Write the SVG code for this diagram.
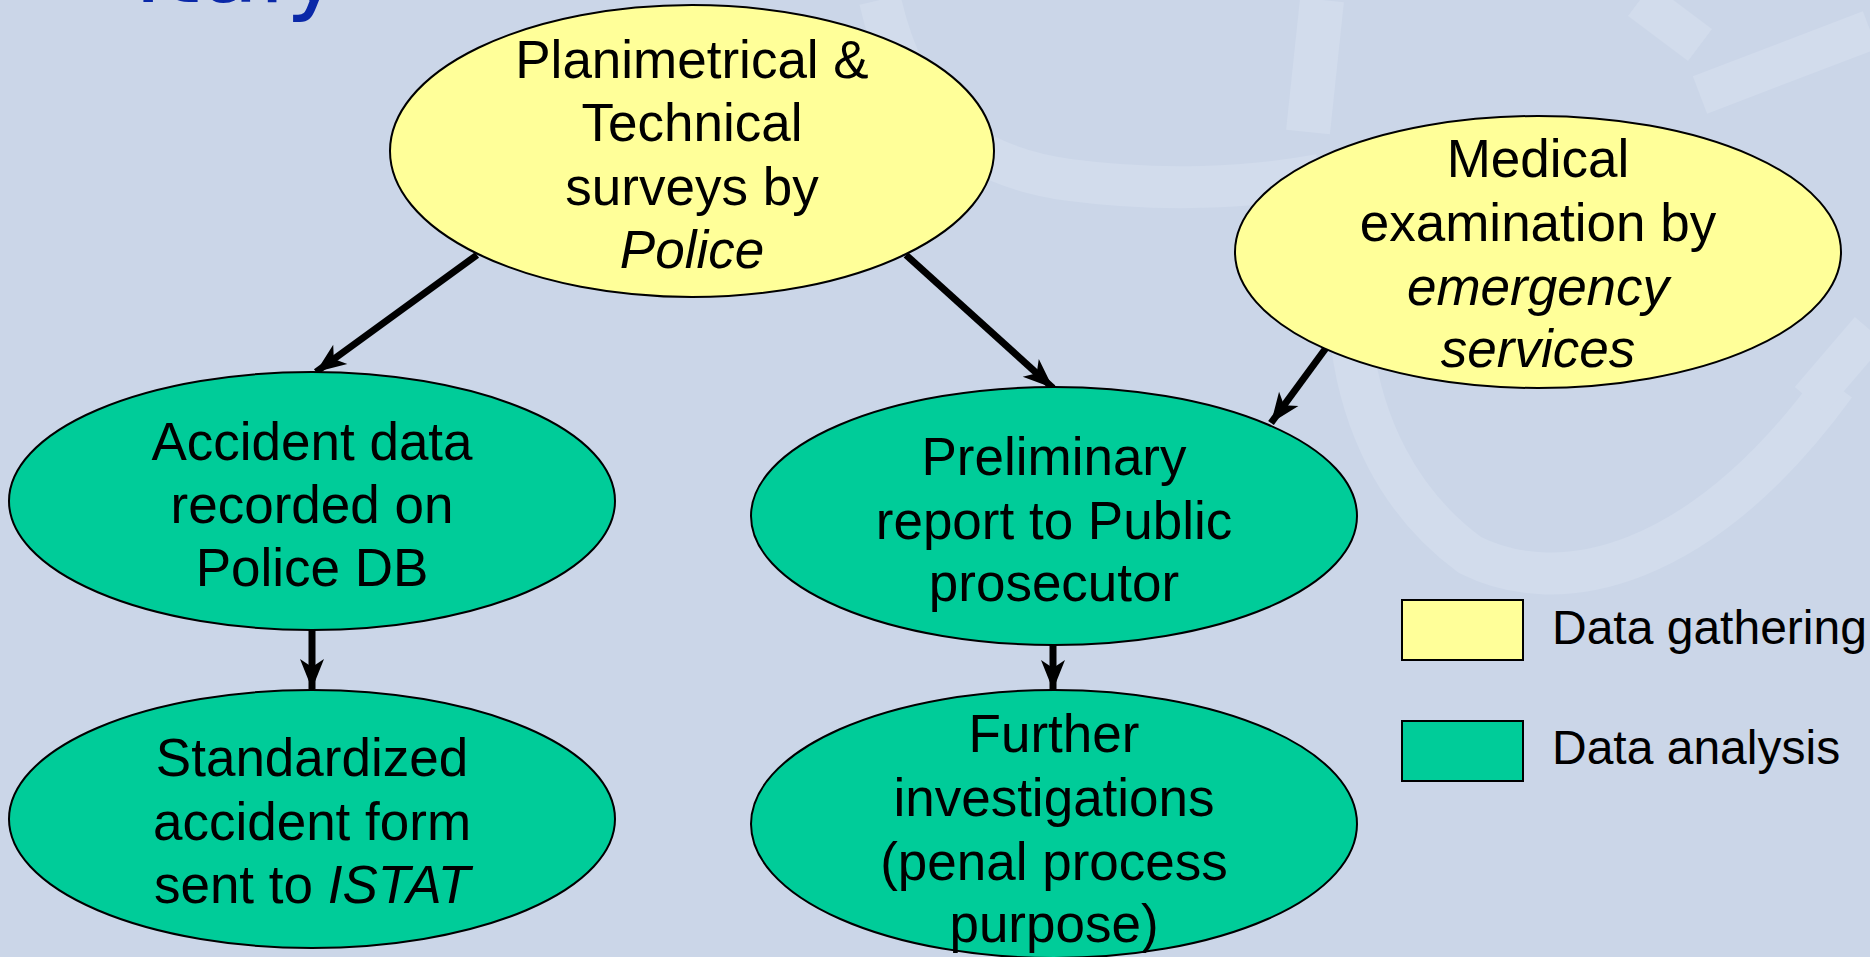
<svg xmlns="http://www.w3.org/2000/svg" width="1870" height="957" viewBox="0 0 1870 957">
<defs>
<style>
.bg{fill:#cbd6e8}
.wm{fill:none;stroke:#d2dcec;stroke-linecap:butt}
.gather{fill:#ffff99;stroke:#000;stroke-width:2}
.analysis{fill:#00cc99;stroke:#000;stroke-width:2}
.lbl{font-family:"Liberation Sans",Arial,sans-serif;font-size:53px;fill:#000;text-anchor:middle}
.it{font-style:italic}
.leg{font-family:"Liberation Sans",Arial,sans-serif;font-size:48px;fill:#000}
.conn{stroke:#000;stroke-width:7;fill:none}
.title{font-family:"DejaVu Sans",Verdana,sans-serif;font-size:96px;fill:#0a28a8}
</style>
<marker id="ah" viewBox="-32 -14 34 28" refX="0" refY="0" markerWidth="34" markerHeight="28" markerUnits="userSpaceOnUse" orient="auto">
<path d="M0,0 L-30,-12 L-22,0 L-30,12 Z" fill="#000"/>
</marker>
</defs>
<rect class="bg" x="0" y="0" width="1870" height="957"/>
<g id="watermark">
<path class="wm" d="M880,0 C905,110 960,165 1070,180 C1160,192 1250,188 1320,175" stroke-width="42"/>
<path class="wm" d="M1322,0 L1308,132" stroke-width="44"/>
<path class="wm" d="M1640,0 L1700,45" stroke-width="40"/>
<path class="wm" d="M1700,95 L1870,30" stroke-width="40"/>
<path class="wm" d="M1352,345 C1362,420 1395,500 1470,555 C1560,600 1700,570 1835,385" stroke-width="42"/>
<path class="wm" d="M1870,330 L1810,400" stroke-width="40"/>
</g>
<text class="title" x="134" y="2">Italy</text>
<g id="connectors">
<line class="conn" x1="477" y1="255" x2="316" y2="372" marker-end="url(#ah)"/>
<line class="conn" x1="906" y1="255" x2="1053" y2="388" marker-end="url(#ah)"/>
<line class="conn" x1="1326" y1="348" x2="1271" y2="423" marker-end="url(#ah)"/>
<line class="conn" x1="312" y1="630" x2="312" y2="689" marker-end="url(#ah)"/>
<line class="conn" x1="1053" y1="645" x2="1053" y2="690" marker-end="url(#ah)"/>
</g>
<g id="node-surveys">
<ellipse class="gather" cx="692" cy="151" rx="302" ry="146"/>
<text class="lbl" x="692" y="78">Planimetrical &amp;</text>
<text class="lbl" x="692" y="141">Technical</text>
<text class="lbl" x="692" y="205">surveys by</text>
<text class="lbl it" x="692" y="268">Police</text>
</g>
<g id="node-medical">
<ellipse class="gather" cx="1538" cy="252" rx="303" ry="136"/>
<text class="lbl" x="1538" y="177">Medical</text>
<text class="lbl" x="1538" y="241">examination by</text>
<text class="lbl it" x="1538" y="305">emergency</text>
<text class="lbl it" x="1538" y="367">services</text>
</g>
<g id="node-accident">
<ellipse class="analysis" cx="312" cy="501" rx="303" ry="129"/>
<text class="lbl" x="312" y="460">Accident data</text>
<text class="lbl" x="312" y="523">recorded on</text>
<text class="lbl" x="312" y="586">Police DB</text>
</g>
<g id="node-preliminary">
<ellipse class="analysis" cx="1054" cy="516" rx="303" ry="129"/>
<text class="lbl" x="1054" y="475">Preliminary</text>
<text class="lbl" x="1054" y="539">report to Public</text>
<text class="lbl" x="1054" y="601">prosecutor</text>
</g>
<g id="node-standardized">
<ellipse class="analysis" cx="312" cy="819" rx="303" ry="129"/>
<text class="lbl" x="312" y="776">Standardized</text>
<text class="lbl" x="312" y="840">accident form</text>
<text class="lbl" x="312" y="903">sent to <tspan class="it">ISTAT</tspan></text>
</g>
<g id="node-further">
<ellipse class="analysis" cx="1054" cy="824" rx="303" ry="134"/>
<text class="lbl" x="1054" y="752">Further</text>
<text class="lbl" x="1054" y="816">investigations</text>
<text class="lbl" x="1054" y="880">(penal process</text>
<text class="lbl" x="1054" y="942">purpose)</text>
</g>
<g id="legend">
<rect class="gather" x="1402" y="600" width="121" height="60"/>
<text class="leg" x="1552" y="644">Data gathering</text>
<rect class="analysis" x="1402" y="721" width="121" height="60"/>
<text class="leg" x="1552" y="764">Data analysis</text>
</g>
</svg>
